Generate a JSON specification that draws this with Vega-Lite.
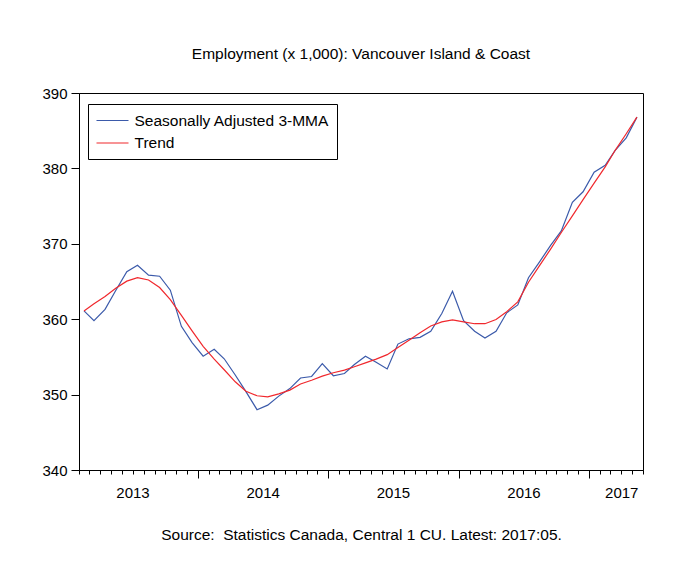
{
  "$schema": "https://vega.github.io/schema/vega-lite/v6.json",
  "width": 564,
  "height": 377,
  "autosize": {"type": "none"},
  "padding": {"left": 79, "top": 93, "right": 48, "bottom": 111},
  "background": "white",
  "title": {
    "text": "Employment (x 1,000): Vancouver Island & Coast",
    "fontSize": 15.5,
    "fontWeight": "normal",
    "font": "Liberation Sans",
    "color": "black",
    "frame": "group",
    "anchor": "middle",
    "offset": 24
  },
  "data": {
    "values": [
      {"date": "2013-02-15", "sa": 361.1, "trend": 361.1},
      {"date": "2013-03-15", "sa": 359.8, "trend": 362.05},
      {"date": "2013-04-15", "sa": 361.3, "trend": 363.0},
      {"date": "2013-05-15", "sa": 363.8, "trend": 364.1},
      {"date": "2013-06-15", "sa": 366.3, "trend": 365.05},
      {"date": "2013-07-15", "sa": 367.15, "trend": 365.5},
      {"date": "2013-08-15", "sa": 365.85, "trend": 365.2},
      {"date": "2013-09-15", "sa": 365.7, "trend": 364.2},
      {"date": "2013-10-15", "sa": 363.85, "trend": 362.6},
      {"date": "2013-11-15", "sa": 359.05, "trend": 360.5},
      {"date": "2013-12-15", "sa": 356.9, "trend": 358.45},
      {"date": "2014-01-15", "sa": 355.1, "trend": 356.4},
      {"date": "2014-02-15", "sa": 356.0, "trend": 354.7},
      {"date": "2014-03-15", "sa": 354.75, "trend": 353.3},
      {"date": "2014-04-15", "sa": 352.6, "trend": 351.7},
      {"date": "2014-05-15", "sa": 350.4, "trend": 350.45},
      {"date": "2014-06-15", "sa": 348.0, "trend": 349.85},
      {"date": "2014-07-15", "sa": 348.6, "trend": 349.7},
      {"date": "2014-08-15", "sa": 349.8, "trend": 350.1},
      {"date": "2014-09-15", "sa": 350.8, "trend": 350.6},
      {"date": "2014-10-15", "sa": 352.2, "trend": 351.4},
      {"date": "2014-11-15", "sa": 352.4, "trend": 351.9},
      {"date": "2014-12-15", "sa": 354.1, "trend": 352.45},
      {"date": "2015-01-15", "sa": 352.5, "trend": 352.9},
      {"date": "2015-02-15", "sa": 352.8, "trend": 353.25},
      {"date": "2015-03-15", "sa": 354.0, "trend": 353.7},
      {"date": "2015-04-15", "sa": 355.1, "trend": 354.2},
      {"date": "2015-05-15", "sa": 354.3, "trend": 354.7},
      {"date": "2015-06-15", "sa": 353.4, "trend": 355.3},
      {"date": "2015-07-15", "sa": 356.7, "trend": 356.25},
      {"date": "2015-08-15", "sa": 357.4, "trend": 357.2},
      {"date": "2015-09-15", "sa": 357.6, "trend": 358.2},
      {"date": "2015-10-15", "sa": 358.4, "trend": 359.1},
      {"date": "2015-11-15", "sa": 360.75, "trend": 359.65},
      {"date": "2015-12-15", "sa": 363.7, "trend": 359.9},
      {"date": "2016-01-15", "sa": 359.8, "trend": 359.65},
      {"date": "2016-02-15", "sa": 358.4, "trend": 359.4},
      {"date": "2016-03-15", "sa": 357.5, "trend": 359.4},
      {"date": "2016-04-15", "sa": 358.4, "trend": 359.95},
      {"date": "2016-05-15", "sa": 360.85, "trend": 361.0},
      {"date": "2016-06-15", "sa": 361.9, "trend": 362.3},
      {"date": "2016-07-15", "sa": 365.5, "trend": 364.9},
      {"date": "2016-08-15", "sa": 367.6, "trend": 367.1},
      {"date": "2016-09-15", "sa": 369.8, "trend": 369.3},
      {"date": "2016-10-15", "sa": 371.7, "trend": 371.5},
      {"date": "2016-11-15", "sa": 375.5, "trend": 373.7},
      {"date": "2016-12-15", "sa": 376.9, "trend": 375.85},
      {"date": "2017-01-15", "sa": 379.5, "trend": 378.05},
      {"date": "2017-02-15", "sa": 380.4, "trend": 380.2},
      {"date": "2017-03-15", "sa": 382.4, "trend": 382.4},
      {"date": "2017-04-15", "sa": 384.05, "trend": 384.6},
      {"date": "2017-05-15", "sa": 386.8, "trend": 386.8}
    ]
  },
  "transform": [
    {"fold": ["sa", "trend"], "as": ["series", "value"]}
  ],
  "mark": {"type": "line", "strokeWidth": 1.2},
  "encoding": {
    "x": {
      "field": "date",
      "type": "temporal",
      "scale": {
        "type": "utc",
        "domain": [
          {"year": 2013, "month": 2, "date": 1, "utc": true},
          {"year": 2017, "month": 6, "date": 1, "utc": true}
        ]
      },
      "axis": {
        "tickCount": "month",
        "labelExpr": "utcmonth(datum.value)==6 || (utcyear(datum.value)==2017 && utcmonth(datum.value)==3) ? utcFormat(datum.value, '%Y') : ''",
        "labelOverlap": false,
        "labelFlush": false,
        "labelBound": false,
        "labelAngle": 0,
        "tickSize": {"condition": {"test": "utcmonth(datum.value)==0", "value": 8}, "value": 4},
        "labelPadding": 11,
        "grid": false,
        "title": "Source:\u00a0 Statistics Canada, Central 1 CU. Latest: 2017:05.",
        "titleFontSize": 15.5,
        "titleFontWeight": "normal",
        "titlePadding": 23
      }
    },
    "y": {
      "field": "value",
      "type": "quantitative",
      "scale": {"domain": [340, 390], "nice": false, "zero": false},
      "axis": {
        "values": [340, 350, 360, 370, 380, 390],
        "tickSize": 8,
        "labelPadding": 4,
        "grid": false,
        "title": null
      }
    },
    "color": {
      "field": "series",
      "type": "nominal",
      "scale": {"domain": ["sa", "trend"], "range": ["#3b5aaa", "#f0282d"]},
      "legend": {
        "orient": "none",
        "legendX": 9,
        "legendY": 11,
        "title": null,
        "symbolType": "M-1,0H3",
        "symbolSize": 256,
        "symbolStrokeWidth": 1.2,
        "labelFontSize": 15.5,
        "labelFont": "Liberation Sans",
        "labelColor": "black",
        "labelLimit": 400,
        "labelOffset": 21,
        "padding": 7.5,
        "rowPadding": 4.5,
        "strokeColor": "black",
        "fillColor": "white",
        "labelExpr": "datum.label == 'sa' ? 'Seasonally Adjusted 3-MMA' : 'Trend'"
      }
    }
  },
  "config": {
    "font": "Liberation Sans",
    "view": {"stroke": "black", "strokeWidth": 1},
    "axis": {
      "domainColor": "black",
      "tickColor": "black",
      "labelColor": "black",
      "titleColor": "black",
      "labelFont": "Liberation Sans",
      "titleFont": "Liberation Sans",
      "labelFontSize": 15
    }
  }
}
